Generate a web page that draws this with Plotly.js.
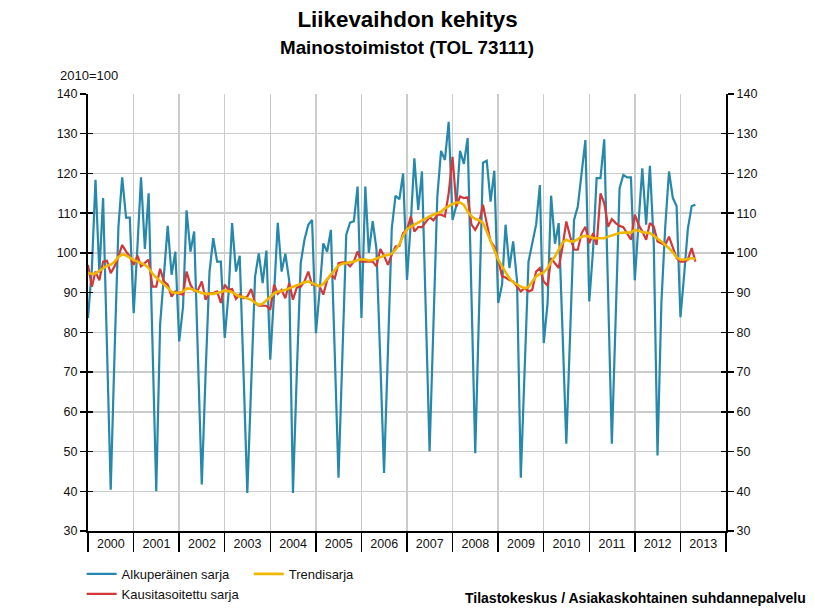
<!DOCTYPE html>
<html><head><meta charset="utf-8">
<script src="https://cdn.plot.ly/plotly-3.0.1.min.js"></script>
<style>html,body{margin:0;padding:0;background:#fff}#chart{width:815px;height:611px}</style>
</head><body><div id="chart"></div>
<script>
// Monthly series, January 2000 onwards
const startYear = 2000;
const original = [
 83.6, 96, 118.4, 95, 113.8, 77, 40.4, 75, 106.6, 119, 108.9, 108.9,
 84.8, 102, 119, 101, 115, 77, 40, 82, 95, 106.8, 94.5, 100.3,
 77.7, 86.5, 110.7, 100.3, 105.4, 73.5, 41.7, 70, 95.3, 103.7, 97.8, 97.8,
 78.6, 90, 107.5, 95.3, 99.3, 69.5, 39.6, 66.8, 94, 99.9, 92.4, 100.6,
 73.1, 90, 107.6, 95.3, 99.8, 93, 39.6, 70, 97.4, 103.3, 107.1, 108.3,
 79.8, 91, 102.4, 100.3, 105.8, 74.6, 43.4, 74, 104.5, 107.6, 108, 116.7,
 83.6, 116.7, 100, 108, 101, 73, 44.6, 75, 106.2, 114.4, 113.5, 120,
 93.2, 108, 123.8, 110.8, 120.5, 85, 50.1, 82, 114.2, 125.7, 123.4, 133,
 108.3, 112, 125.7, 122.4, 128.9, 89, 49.6, 86, 122.7, 123.2, 112.9, 120.7,
 87.4, 92, 107.1, 96.2, 102.9, 93, 43.4, 70.6, 97.8, 102.4, 107.1, 117.1,
 77.3, 87.4, 114.4, 102.3, 107.5, 80, 52, 80, 108.3, 111.7, 120, 128.4,
 87.8, 101, 118.8, 118.8, 128.6, 91, 52, 84, 116.3, 119.6, 119, 119,
 93.1, 108, 121.3, 107.1, 121.9, 102.4, 49, 87.4, 106.6, 120.5, 113.8, 111.8,
 83.8, 95, 106, 111.8, 112.1
];
const seasonal = [
 97.0, 91.5, 95.3, 93.1, 97.8, 98.0, 94.9, 96.6, 99.1, 102.0, 100.4, 99.1,
 97.0, 99.3, 96.6, 97.4, 98.3, 91.5, 91.5, 96.0, 92.8, 92.0, 89.0, 90.3,
 89.7, 89.5, 95.3, 92.0, 90.5, 90.7, 92.8, 88.2, 89.9, 89.9, 90.3, 87.4,
 92.0, 90.7, 90.9, 88.4, 89.5, 88.6, 89.0, 90.9, 87.4, 86.7, 86.7, 86.7,
 85.7, 92.0, 89.7, 90.7, 88.6, 92.4, 88.2, 91.3, 91.5, 92.8, 95.3, 92.0,
 92.0, 91.5, 89.5, 93.2, 94.5, 93.6, 97.4, 97.6, 97.6, 96.6, 97.8, 100.4,
 97.8, 97.8, 97.7, 97.8, 96.6, 101.0, 99.3, 97.0, 99.5, 101.6, 101.8, 105.0,
 105.8, 109.2, 105.4, 106.5, 106.5, 107.9, 109.0, 108.2, 109.6, 109.6, 109.2, 115.0,
 124.2, 111.7, 114.2, 113.8, 114.0, 107.1, 105.8, 107.6, 112.1, 107.5, 102.9, 101.6,
 98.3, 94.1, 93.8, 93.2, 92.8, 91.5, 90.3, 91.1, 90.3, 90.7, 95.3, 96.2,
 92.8, 91.7, 98.7, 97.4, 96.2, 101.6, 107.9, 104.1, 100.8, 100.8, 105.0, 106.6,
 102.4, 105.0, 102.0, 115.0, 112.5, 106.6, 108.5, 107.5, 106.8, 106.5, 105.0, 103.3,
 109.6, 107.1, 105.4, 103.3, 107.5, 106.6, 102.9, 102.4, 102.0, 104.1, 101.6, 98.7,
 97.8, 97.8, 98.3, 101.2, 97.8
];
const trend = [
 95.0, 94.7, 94.8, 95.5, 96.3, 96.8, 97.0, 97.8, 99.0, 99.6, 99.4, 98.8,
 98.2, 97.8, 97.4, 97.0, 96.2, 94.8, 93.8, 93.0, 92.2, 91.2, 90.2, 89.9,
 90.0, 90.3, 91.0, 91.0, 90.6, 90.2, 89.9, 89.7, 89.7, 89.7, 89.9, 90.1,
 90.6, 90.3, 90.1, 89.5, 89.0, 88.9, 88.6, 88.2, 87.5, 86.9, 87.2, 88.0,
 89.0, 89.8, 90.3, 90.4, 90.7, 91.1, 91.4, 91.8, 92.2, 92.6, 92.8, 92.5,
 92.0, 91.6, 92.2, 93.4, 94.6, 95.8, 96.8, 97.3, 97.5, 97.6, 97.8, 98.2,
 98.4, 98.3, 98.1, 98.2, 98.6, 99.0, 99.3, 99.5, 99.8, 100.8, 102.2, 104.3,
 106.0, 106.6, 107.1, 107.5, 108.1, 108.7, 109.2, 109.6, 110.0, 110.4, 111.2, 111.8,
 112.3, 112.7, 112.7, 112.1, 110.4, 109.2, 108.5, 108.3, 107.5, 105.4, 102.9, 100.4,
 98.3, 96.6, 95.0, 93.6, 92.6, 92.0, 91.5, 91.1, 91.4, 92.8, 94.1, 94.7,
 95.1, 96.2, 97.8, 99.1, 100.8, 102.6, 103.3, 102.9, 102.9, 103.5, 104.1, 104.3,
 104.1, 103.7, 103.7, 103.7, 103.7, 104.1, 104.4, 104.8, 105.0, 105.1, 105.1, 105.1,
 105.8, 105.6, 105.2, 105.1, 105.0, 104.3, 103.7, 102.9, 102.0, 101.2, 100.1, 98.9,
 98.3, 98.3, 98.4, 98.7, 98.4
];
const seriesNames = ['Alkuperäinen sarja', 'Kausitasoitettu sarja', 'Trendisarja'];
const yTicks = [30, 40, 50, 60, 70, 80, 90, 100, 110, 120, 130, 140];

const months = original.map((_, i) => {
  const y = startYear + Math.floor(i / 12);
  const m = (i % 12) + 1;
  return y + '-' + String(m).padStart(2, '0') + '-01';
});

const FONT = 'Liberation Sans, Arial, sans-serif';
const xRange = ['2000-01-01', '2014-01-01'];
const yRange = [30, 140];

const traces = [
  {x: months, y: original, name: seriesNames[0], type: 'scatter', mode: 'lines',
   xaxis: 'x', yaxis: 'y', line: {color: '#2688aa', width: 2.2}, legend: 'legend', hoverinfo: 'skip'},
  {x: months, y: seasonal, name: seriesNames[1], type: 'scatter', mode: 'lines',
   xaxis: 'x', yaxis: 'y3', line: {color: '#d2383a', width: 2.2}, legend: 'legend', hoverinfo: 'skip'},
  {x: months, y: trend, name: seriesNames[2], type: 'scatter', mode: 'lines',
   xaxis: 'x', yaxis: 'y4', line: {color: '#f1b700', width: 2.6}, legend: 'legend2', hoverinfo: 'skip'},
  {x: [months[0]], y: [null], type: 'scatter', mode: 'lines', xaxis: 'x2', yaxis: 'y2',
   showlegend: false, hoverinfo: 'skip'}
];

const commonY = {range: yRange, tickvals: yTicks, zeroline: false, fixedrange: true};

const layout = {
  width: 815, height: 611,
  margin: {l: 88, r: 89, t: 94, b: 80, autoexpand: false},
  paper_bgcolor: '#fff', plot_bgcolor: '#fff',
  font: {family: FONT, size: 12, color: '#000'},
  title: {text: '<b>Liikevaihdon kehitys</b>', x: 0.5, xanchor: 'center', y: 1 - 19 / 611, yanchor: 'middle',
          font: {family: FONT, size: 22.4, color: '#000'}},
  xaxis: {type: 'date', range: xRange, tick0: '2000-01-01', dtick: 'M12', ticklabelmode: 'period',
          tickformat: '%Y', ticks: '', showgrid: true, gridcolor: '#cccccc', gridwidth: 1.5,
          showline: true, linecolor: '#000', linewidth: 2, zeroline: false, automargin: false,
          tickfont: {family: FONT, size: 12.5, color: '#111'}, fixedrange: true},
  xaxis2: {type: 'date', range: xRange, tick0: '2000-01-01', dtick: 'M12', overlaying: 'x', anchor: 'y',
           side: 'bottom', ticks: 'outside', ticklen: 20, tickwidth: 1.5, tickcolor: '#000', automargin: false,
           showticklabels: false, showgrid: false, showline: false, zeroline: false, fixedrange: true},
  yaxis: Object.assign({}, commonY, {side: 'left', showgrid: true, gridcolor: '#cccccc', gridwidth: 1.5,
          showline: true, linecolor: '#000', linewidth: 2, ticks: 'outside', ticklen: 6, tickwidth: 1.5,
          tickcolor: '#000', automargin: false, tickfont: {family: FONT, size: 12.5, color: '#111'}}),
  yaxis2: Object.assign({}, commonY, {overlaying: 'y', side: 'right', anchor: 'x', showgrid: false,
          showline: true, linecolor: '#000', linewidth: 2, ticks: 'outside', ticklen: 6, tickwidth: 1.5,
          tickcolor: '#000', automargin: false, tickfont: {family: FONT, size: 12.5, color: '#111'}}),
  yaxis3: Object.assign({}, commonY, {overlaying: 'y', side: 'left', anchor: 'x', showgrid: false,
          showline: false, ticks: 'inside', ticklen: 5, tickwidth: 1.5, tickcolor: '#000', showticklabels: false}),
  yaxis4: Object.assign({}, commonY, {overlaying: 'y', side: 'right', anchor: 'x', showgrid: false,
          showline: false, ticks: 'inside', ticklen: 5, tickwidth: 1.5, tickcolor: '#000', showticklabels: false}),
  legend: {x: -0.01, xanchor: 'left', y: -0.064, yanchor: 'top', orientation: 'v',
           bgcolor: 'rgba(0,0,0,0)', font: {family: FONT, size: 13, color: '#111'}, tracegroupgap: 0},
  legend2: {x: 0.252, xanchor: 'left', y: -0.064, yanchor: 'top', orientation: 'v',
           bgcolor: 'rgba(0,0,0,0)', font: {family: FONT, size: 13, color: '#111'}},
  annotations: [
    {text: '<b>Mainostoimistot (TOL 73111)</b>', xref: 'paper', yref: 'paper', x: 0.5, xanchor: 'center',
     y: (531 - 47) / 437, yanchor: 'middle', showarrow: false, font: {family: FONT, size: 18.8, color: '#000'}},
    {text: '2010=100', xref: 'paper', yref: 'paper', x: (58 - 88) / 638, xanchor: 'left',
     y: (531 - 76) / 437, yanchor: 'middle', showarrow: false, font: {family: FONT, size: 13, color: '#111'}},
    {text: '<b>Tilastokeskus / Asiakaskohtainen suhdannepalvelu</b>', xref: 'paper', yref: 'paper',
     x: (808 - 88) / 638, xanchor: 'right', y: (531 - 598) / 437, yanchor: 'middle', showarrow: false,
     font: {family: FONT, size: 14, color: '#000'}}
  ],
  showlegend: true
};

Plotly.newPlot('chart', traces, layout, {staticPlot: true, displayModeBar: false});
</script>
</body></html>
